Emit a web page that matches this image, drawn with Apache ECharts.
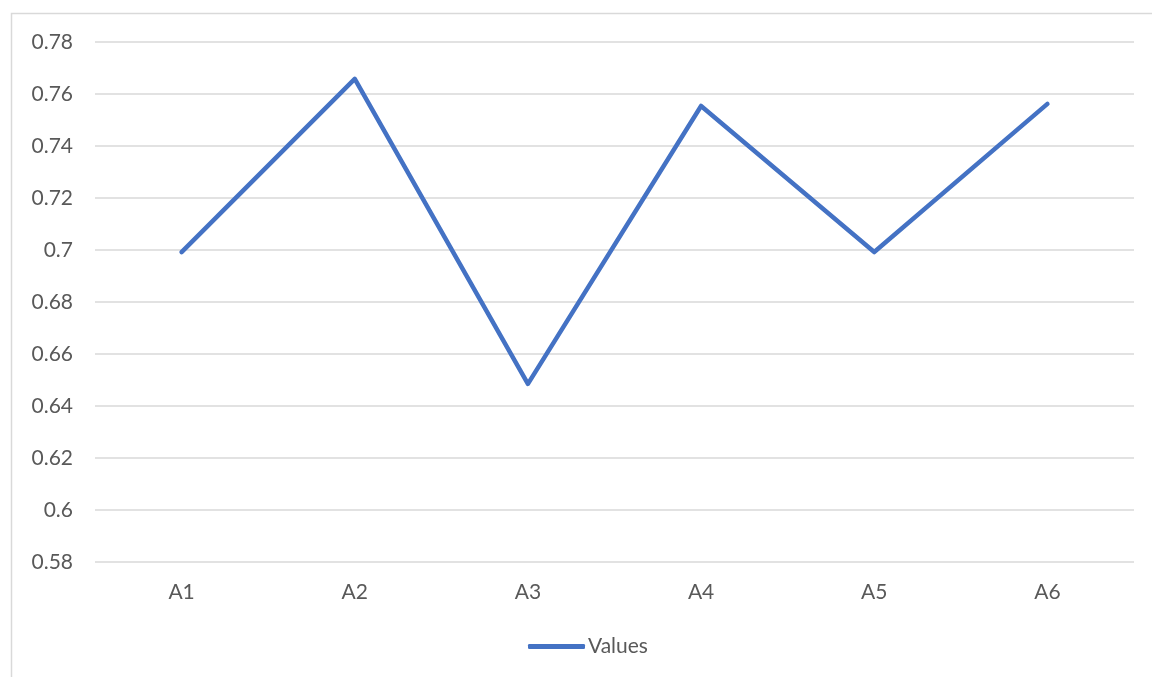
<!DOCTYPE html>
<html>
<head>
<meta charset="utf-8">
<script src="https://cdn.jsdelivr.net/npm/echarts@6/dist/echarts.min.js"></script>
<style>
  html, body { margin: 0; padding: 0; background: #fff; }
  #main { width: 1152px; height: 677px; }
</style>
</head>
<body>
<div id="main"></div>
<script>
// categories and values
const categories = ["A1", "A2", "A3", "A4", "A5", "A6"];
const values = [0.6992, 0.7658, 0.6485, 0.7554, 0.6992, 0.7562];
const seriesName = "Values";

const textColor = "#595959";
const fontFamily = "Lato, 'Open Sans', sans-serif";
const fontSize = 21;

const chart = echarts.init(document.getElementById("main"));
chart.setOption({
  animation: false,
  backgroundColor: "#fff",
  // outer chart frame, only left/top edges visible in the crop
  graphic: [{
    type: "rect",
    shape: { x: 11.5, y: 13.5, width: 1200, height: 700 },
    style: { fill: "none", stroke: "#d9d9d9", lineWidth: 1.5 },
    silent: true,
    z: -1
  }],
  grid: { left: 95, right: 18, top: 42, bottom: 115 },
  legend: {
    data: [seriesName],
    left: 528,
    top: 636,
    padding: 0,
    itemWidth: 57,
    itemHeight: 5,
    icon: "roundRect",
    textStyle: { color: textColor, fontSize: fontSize, fontFamily: fontFamily, padding: [0, 0, 0, -2] }
  },
  xAxis: {
    type: "category",
    data: categories,
    boundaryGap: true,
    axisLine: { show: false },
    axisTick: { show: false },
    axisLabel: { color: textColor, fontSize: fontSize, fontFamily: fontFamily, margin: 20 }
  },
  yAxis: {
    type: "value",
    min: 0.58,
    max: 0.78,
    interval: 0.02,
    axisLine: { show: false },
    axisTick: { show: false },
    axisLabel: {
      color: textColor, fontSize: fontSize, fontFamily: fontFamily, margin: 22,
      formatter: (v) => String(parseFloat(v.toFixed(2)))
    },
    splitLine: { lineStyle: { color: "#d9d9d9", width: 1.5 } }
  },
  series: [{
    name: seriesName,
    type: "line",
    data: values,
    showSymbol: false,
    symbol: "none",
    lineStyle: { color: "#4472C4", width: 4.5, cap: "round", join: "round" },
    itemStyle: { color: "#4472C4" }
  }]
});
</script>
</body>
</html>
